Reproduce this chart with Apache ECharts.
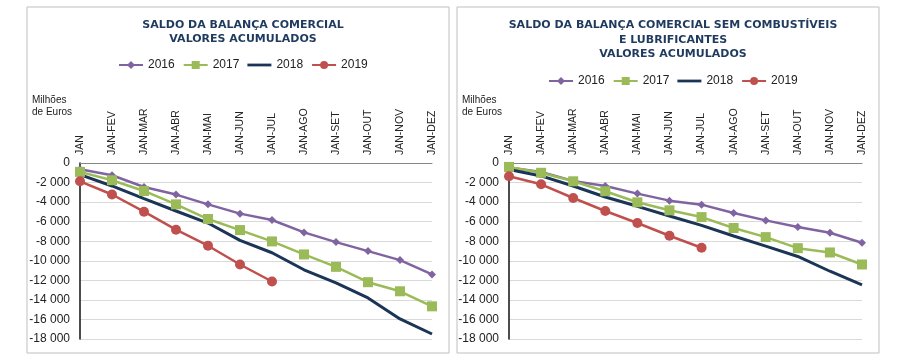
<!DOCTYPE html>
<html><head><meta charset="utf-8">
<script src="https://cdn.jsdelivr.net/npm/echarts@6/dist/echarts.min.js"></script>
<style>html,body{margin:0;padding:0;background:#fff}#c{width:900px;height:363px}</style>
</head><body><div id="c"></div>
<script>
var categories = ['JAN','JAN-FEV','JAN-MAR','JAN-ABR','JAN-MAI','JAN-JUN','JAN-JUL','JAN-AGO','JAN-SET','JAN-OUT','JAN-NOV','JAN-DEZ'];
var yTicks = {min: -18000, max: 0, interval: 2000};
var seriesNames = ['2016','2017','2018','2019'];
var leftTitle = 'SALDO DA BALANÇA COMERCIAL\nVALORES ACUMULADOS';
var rightTitle = 'SALDO DA BALANÇA COMERCIAL SEM COMBUSTÍVEIS\nE LUBRIFICANTES\nVALORES ACUMULADOS';
var unitLabel = 'Milhões\nde Euros';

// Left chart: total balance (cumulative, million euros)
var total2016 = [-640, -1250, -2450, -3230, -4230, -5180, -5830, -7100, -8090, -9010, -9930, -11400];
var total2017 = [-910, -1760, -2860, -4230, -5730, -6860, -8020, -9350, -10620, -12190, -13120, -14660];
var total2018 = [-1180, -2350, -3640, -4910, -6140, -7920, -9180, -10920, -12260, -13800, -15950, -17490];
var total2019 = [-1870, -3220, -4980, -6820, -8460, -10380, -12120];

// Right chart: balance excluding fuels and lubricants
var excl2016 = [-450, -910, -1830, -2350, -3130, -3850, -4260, -5120, -5870, -6550, -7130, -8150];
var excl2017 = [-400, -1000, -1870, -2890, -4020, -4840, -5530, -6650, -7580, -8710, -9150, -10380];
var excl2018 = [-670, -1320, -2350, -3480, -4430, -5420, -6380, -7470, -8500, -9560, -11070, -12460];
var excl2019 = [-1350, -2180, -3580, -4910, -6140, -7440, -8670];

var colors = {'2016':'#8064A2','2017':'#9BBB59','2018':'#1B3556','2019':'#C0504D'};
var symbols = {'2016':'diamond','2017':'rect','2018':'none','2019':'circle'};
var symSizes = {'2016':8,'2017':10,'2018':0,'2019':10};

function fmt(v){
  var s = Math.abs(v).toString().replace(/\B(?=(\d{3})+(?!\d))/g, ' ');
  return (v < 0 ? '-' : '') + s;
}

function mkSeries(name, data, idx){
  return {
    name: name, type: 'line', data: data,
    xAxisIndex: idx, yAxisIndex: idx,
    symbol: symbols[name], symbolSize: symSizes[name], showSymbol: symbols[name] !== 'none',
    lineStyle: {color: colors[name], width: name === '2018' ? 3 : 2.5},
    itemStyle: {color: colors[name]},
    animation: false
  };
}

var chart = echarts.init(document.getElementById('c'), null, {renderer: 'canvas'});
var font = '"Liberation Sans", Arial, sans-serif';
var titleFont = '"DejaVu Sans", Verdana, sans-serif';

function xAxis(i){
  return {
    gridIndex: i, type: 'category', data: categories, position: 'top', boundaryGap: false,
    axisLine: {show: true, lineStyle: {color: '#868686', width: 1}},
    axisTick: {show: false},
    axisLabel: {rotate: 90, margin: 8, fontSize: 10.5, color: '#222', fontFamily: font, interval: 0},
    splitLine: {show: false}
  };
}
function yAxis(i){
  return {
    gridIndex: i, type: 'value', min: yTicks.min, max: yTicks.max, interval: yTicks.interval,
    axisLine: {show: true, lineStyle: {color: '#111', width: 1.5}},
    axisTick: {show: false},
    axisLabel: {margin: 10, fontSize: 12, color: '#222', fontFamily: font, formatter: fmt},
    splitLine: {show: true, lineStyle: {color: '#D9D9D9', width: 1}}
  };
}

function legendData(){
  return seriesNames.map(function(n){
    return n === '2018' ? {name: n, icon: 'path://M0,0 L26,0 L26,3 L0,3 Z'} : {name: n};
  });
}

chart.setOption({
  backgroundColor: '#fff',
  animation: false,
  title: [
    {text: leftTitle, left: 238, top: 13, textAlign: 'center',
     textStyle: {fontFamily: titleFont, fontWeight: 'bold', fontSize: 11, color: '#1F3A5F', lineHeight: 14}},
    {text: rightTitle, left: 668, top: 13, textAlign: 'center',
     textStyle: {fontFamily: titleFont, fontWeight: 'bold', fontSize: 11, color: '#1F3A5F', lineHeight: 14.5}}
  ],
  legend: [
    {data: legendData(), left: 113, top: 54, itemWidth: 24, itemHeight: 10, itemGap: 8,
     textStyle: {fontSize: 12, color: '#222', fontFamily: font}},
    {data: legendData(), left: 543, top: 70, itemWidth: 24, itemHeight: 10, itemGap: 8,
     textStyle: {fontSize: 12, color: '#222', fontFamily: font}}
  ],
  grid: [
    {left: 80, right: 468, top: 163, bottom: 24},
    {left: 509, right: 38, top: 163, bottom: 24}
  ],
  xAxis: [xAxis(0), xAxis(1)],
  yAxis: [yAxis(0), yAxis(1)],
  graphic: [
    {type: 'rect', shape: {x: 27, y: 7, width: 422, height: 346}, style: {fill: 'none', stroke: '#BFBFBF', lineWidth: 1}, silent: true, z: -1},
    {type: 'rect', shape: {x: 457, y: 7, width: 422, height: 346}, style: {fill: 'none', stroke: '#BFBFBF', lineWidth: 1}, silent: true, z: -1},
    {type: 'text', left: 32, top: 94, style: {text: unitLabel, fontSize: 10, fontFamily: font, fill: '#222', lineHeight: 12}},
    {type: 'text', left: 462, top: 94, style: {text: unitLabel, fontSize: 10, fontFamily: font, fill: '#222', lineHeight: 12}}
  ],
  series: [
    mkSeries('2016', total2016, 0), mkSeries('2017', total2017, 0), mkSeries('2018', total2018, 0), mkSeries('2019', total2019, 0),
    mkSeries('2016', excl2016, 1), mkSeries('2017', excl2017, 1), mkSeries('2018', excl2018, 1), mkSeries('2019', excl2019, 1)
  ]
});
</script></body></html>
